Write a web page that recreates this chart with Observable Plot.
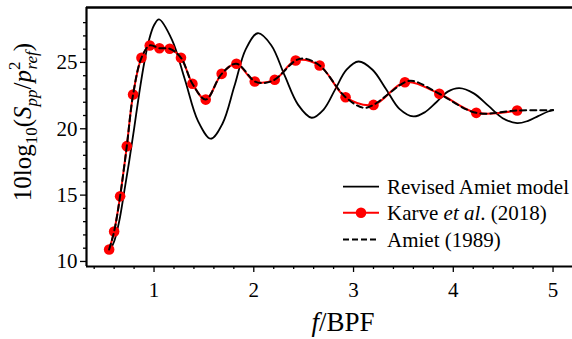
<!DOCTYPE html>
<html>
<head>
<meta charset="utf-8">
<script src="https://cdn.jsdelivr.net/npm/d3@7"></script>
<script src="https://cdn.jsdelivr.net/npm/@observablehq/plot@0.6"></script>
<style>
  html, body { margin: 0; padding: 0; background: white; }
</style>
</head>
<body>
<div id="chart"></div>
<script>
// Revised Amiet model (solid black)
const revisedF = [0.55, 0.60, 0.65, 0.70, 0.75, 0.80, 0.85, 0.90, 0.95, 1.00, 1.05, 1.18, 1.31, 1.44, 1.57, 1.687, 1.805, 1.92, 2.04, 2.175, 2.31, 2.445, 2.58, 2.70, 2.815, 2.93, 3.05, 3.19, 3.325, 3.46, 3.60, 3.715, 3.83, 3.945, 4.06, 4.205, 4.35, 4.495, 4.64, 4.75, 4.85, 4.95, 5.0];
const revisedL = [10.7, 11.5, 13.0, 15.2, 17.5, 20.0, 22.6, 24.9, 26.7, 27.8, 28.24, 26.7, 23.7, 20.6, 19.25, 20.4, 23.2, 26.0, 27.2, 26.3, 24.0, 21.8, 20.83, 21.45, 22.95, 24.45, 25.07, 24.45, 23.0, 21.5, 20.93, 21.25, 22.0, 22.8, 23.06, 22.67, 21.74, 20.8, 20.42, 20.6, 20.95, 21.3, 21.43];

// Karve et al. (2018) (red dots)
const karveF = [0.55, 0.60, 0.66, 0.727, 0.79, 0.874, 0.957, 1.054, 1.157, 1.27, 1.385, 1.518, 1.678, 1.826, 2.01, 2.21, 2.42, 2.66, 2.92, 3.20, 3.515, 3.86, 4.23, 4.64];
const karveL = [10.9, 12.26, 14.92, 18.69, 22.58, 25.35, 26.28, 26.07, 26.03, 25.35, 23.39, 22.2, 24.14, 24.9, 23.56, 23.7, 25.15, 24.77, 22.38, 21.8, 23.51, 22.64, 21.2, 21.38];

// Amiet (1989) (dashed black)
const amietF = [0.55, 0.60, 0.66, 0.727, 0.79, 0.874, 0.957, 1.054, 1.157, 1.27, 1.385, 1.518, 1.678, 1.826, 2.01, 2.10, 2.21, 2.42, 2.50, 2.66, 2.92, 3.10, 3.20, 3.515, 3.60, 3.86, 4.23, 4.64, 5.0];
const amietL = [10.9, 12.26, 14.92, 18.69, 22.58, 25.35, 26.28, 26.07, 26.03, 25.35, 23.39, 22.2, 24.14, 24.9, 23.56, 23.45, 23.7, 25.15, 25.3, 24.77, 22.38, 21.58, 21.8, 23.51, 23.6, 22.64, 21.2, 21.38, 21.4];

const xTicks = [1, 2, 3, 4, 5];
const xMinor = [0.4, 0.6, 0.8, 1.2, 1.4, 1.6, 1.8, 2.2, 2.4, 2.6, 2.8, 3.2, 3.4, 3.6, 3.8, 4.2, 4.4, 4.6, 4.8];
const yTicks = [10, 15, 20, 25];
const yMinor = [11, 12, 13, 14, 16, 17, 18, 19, 21, 22, 23, 24, 26, 27, 28];

const xDomain = [0.323, 5.195];
const yDomain = [9.62, 29.14];

const revised = revisedF.map((f, i) => ({f, L: revisedL[i]}));
const karve = karveF.map((f, i) => ({f, L: karveL[i]}));
const amiet = amietF.map((f, i) => ({f, L: amietL[i]}));

const serif = "'Liberation Serif','Times New Roman',Times,serif";

const chart = Plot.plot({
  width: 572,
  height: 339,
  marginLeft: 86,
  marginRight: 0,
  marginTop: 7,
  marginBottom: 73,
  style: {fontFamily: serif, fontSize: "21px", color: "black", background: "white", overflow: "visible"},
  x: {domain: xDomain},
  y: {domain: yDomain},
  marks: [
    Plot.axisX(xMinor, {tickSize: 3, text: null, label: null, strokeWidth: 1.3}),
    Plot.axisX(xTicks, {tickSize: 6, tickPadding: 10, label: null, strokeWidth: 1.3, fontSize: 21, fontFamily: serif}),
    Plot.axisY(yMinor, {tickSize: 3, text: null, label: null, strokeWidth: 1.3}),
    Plot.axisY(yTicks, {tickSize: 6, tickPadding: 3, label: null, strokeWidth: 1.3, fontSize: 21, fontFamily: serif}),
    Plot.ruleY([yDomain[0]], {strokeWidth: 2.2}),
    Plot.ruleY([yDomain[1]], {strokeWidth: 2.4}),
    Plot.ruleX([xDomain[0]], {strokeWidth: 2.2}),
    Plot.line(revised, {x: "f", y: "L", curve: "catmull-rom", stroke: "black", strokeWidth: 1.8}),
    Plot.line(karve, {x: "f", y: "L", curve: "catmull-rom", stroke: "red", strokeWidth: 2}),
    Plot.dot(karve, {x: "f", y: "L", r: 5.3, fill: "red", stroke: "none"}),
    Plot.line(amiet, {x: "f", y: "L", curve: "catmull-rom", stroke: "black", strokeWidth: 2, strokeDasharray: "6,4"})
  ]
});

document.getElementById("chart").appendChild(chart);

const svg = d3.select(chart);
svg.selectAll("text").attr("font-family", serif);

// Y axis title
const yl = svg.append("text")
  .attr("transform", "translate(31,122) rotate(-90)")
  .attr("text-anchor", "middle")
  .attr("font-family", serif)
  .attr("font-size", 25)
  .attr("fill", "black");
yl.append("tspan").text("10log");
yl.append("tspan").attr("font-size", 17).attr("dy", 6).text("10");
yl.append("tspan").attr("dy", -6).text("(");
yl.append("tspan").attr("font-style", "italic").text("S");
yl.append("tspan").attr("font-style", "italic").attr("font-size", 17).attr("dy", 6).text("pp");
yl.append("tspan").attr("dy", -6).text("/");
yl.append("tspan").attr("font-style", "italic").text("p");
yl.append("tspan").attr("font-size", 17).attr("dy", -11).text("2");
yl.append("tspan").attr("font-style", "italic").attr("font-size", 17).attr("dx", -8).attr("dy", 17).text("ref");
yl.append("tspan").attr("dy", -6).text(")");

// X axis title
const xl = svg.append("text")
  .attr("x", 343).attr("y", 331)
  .attr("text-anchor", "middle")
  .attr("font-family", serif)
  .attr("font-size", 27)
  .attr("fill", "black");
xl.append("tspan").attr("font-style", "italic").text("f");
xl.append("tspan").text("/BPF");

// Legend
const lg = svg.append("g").attr("font-family", serif).attr("font-size", 21).attr("fill", "black").attr("text-anchor", "start");
const rows = [186.7, 212.7, 239.5];
lg.append("line").attr("x1", 343).attr("x2", 379).attr("y1", rows[0]).attr("y2", rows[0]).attr("stroke", "black").attr("stroke-width", 1.8);
lg.append("line").attr("x1", 343).attr("x2", 379).attr("y1", rows[1]).attr("y2", rows[1]).attr("stroke", "red").attr("stroke-width", 2);
lg.append("circle").attr("cx", 361).attr("cy", rows[1]).attr("r", 5.3).attr("fill", "red");
lg.append("line").attr("x1", 343).attr("x2", 379).attr("y1", rows[2]).attr("y2", rows[2]).attr("stroke", "black").attr("stroke-width", 2).attr("stroke-dasharray", "6,3");
lg.append("text").attr("x", 387).attr("y", rows[0] + 7).text("Revised Amiet model");
const t2 = lg.append("text").attr("x", 387).attr("y", rows[1] + 7);
t2.append("tspan").text("Karve ");
t2.append("tspan").attr("font-style", "italic").text("et al");
t2.append("tspan").text(". (2018)");
lg.append("text").attr("x", 387).attr("y", rows[2] + 7).text("Amiet (1989)");
</script>
</body>
</html>
